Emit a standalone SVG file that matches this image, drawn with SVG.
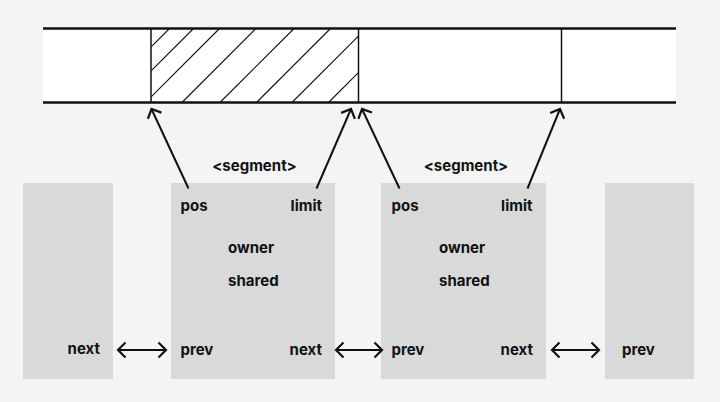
<svg xmlns="http://www.w3.org/2000/svg" width="720" height="402" viewBox="0 0 720 402">
<defs>
<style>
.bg{fill:#f4f4f4}
.node rect{fill:#d9d9d9}
text{font-family:Inter,"Noto Sans","Liberation Sans",sans-serif;font-size:15px;font-weight:700;fill:#111}
.hatch line{stroke:#111;stroke-width:1.2}
.conn line{stroke:#111;stroke-width:2;fill:none}
</style>
<marker id="ah" markerUnits="userSpaceOnUse" markerWidth="24" markerHeight="24" viewBox="-12 -12 24 24" refX="0" refY="0" orient="auto-start-reverse">
<path d="M -7.5 -7.5 L 0 0 L -7.5 7.5" fill="none" stroke="#111" stroke-width="2.2" stroke-linejoin="miter"/>
</marker>
<clipPath id="hc"><rect x="151" y="28" width="207" height="75"/></clipPath>
</defs>
<rect class="bg" x="0" y="0" width="720" height="402"/>

<g id="buffer">
<rect x="43" y="28" width="633" height="75" fill="#fff"/>
<g class="hatch" clip-path="url(#hc)">
<line x1="95" y1="103" x2="170" y2="28"/>
<line x1="119" y1="103" x2="194" y2="28"/>
<line x1="145" y1="103" x2="220" y2="28"/>
<line x1="181.5" y1="103" x2="256.5" y2="28"/>
<line x1="219.5" y1="103" x2="294.5" y2="28"/>
<line x1="256" y1="103" x2="331" y2="28"/>
<line x1="291.5" y1="103" x2="366.5" y2="28"/>
<line x1="328" y1="103" x2="403" y2="28"/>
</g>
<line x1="43" y1="28.5" x2="676" y2="28.5" stroke="#111" stroke-width="2.5"/>
<line x1="43" y1="102.5" x2="676" y2="102.5" stroke="#111" stroke-width="2.5"/>
<line x1="151" y1="28" x2="151" y2="103" stroke="#111" stroke-width="1.5"/>
<line x1="358.5" y1="28" x2="358.5" y2="103" stroke="#111" stroke-width="1.5"/>
<line x1="561.5" y1="28" x2="561.5" y2="103" stroke="#111" stroke-width="1.5"/>
</g>

<g id="seg0" class="node">
<rect x="23" y="183" width="90" height="196"/>
<text x="100" y="354" text-anchor="end">next</text>
</g>

<g id="seg1" class="node">
<rect x="171" y="183" width="164" height="196"/>
<text x="254.5" y="171" text-anchor="middle">&lt;segment&gt;</text>
<text x="180.5" y="210.5">pos</text>
<text x="322" y="210.5" text-anchor="end">limit</text>
<text x="228" y="252.5">owner</text>
<text x="228" y="286">shared</text>
<text x="180.5" y="354.5">prev</text>
<text x="322" y="354.5" text-anchor="end">next</text>
</g>

<g id="seg2" class="node">
<rect x="381" y="183" width="165" height="196"/>
<text x="466" y="171" text-anchor="middle">&lt;segment&gt;</text>
<text x="391.5" y="210.5">pos</text>
<text x="532.5" y="210.5" text-anchor="end">limit</text>
<text x="439" y="252.5">owner</text>
<text x="439" y="286">shared</text>
<text x="391.5" y="354.5">prev</text>
<text x="533" y="354.5" text-anchor="end">next</text>
</g>

<g id="seg3" class="node">
<rect x="605" y="183" width="89" height="196"/>
<text x="622" y="354.5">prev</text>
</g>

<g id="connectors" class="conn">
<line x1="188.5" y1="188.5" x2="151.5" y2="109" marker-end="url(#ah)"/>
<line x1="316.5" y1="188.5" x2="351" y2="109" marker-end="url(#ah)"/>
<line x1="399.5" y1="188.5" x2="362" y2="109" marker-end="url(#ah)"/>
<line x1="527.5" y1="188.5" x2="560" y2="109" marker-end="url(#ah)"/>
<line x1="118" y1="350" x2="166" y2="350" marker-start="url(#ah)" marker-end="url(#ah)"/>
<line x1="336" y1="350" x2="382" y2="350" marker-start="url(#ah)" marker-end="url(#ah)"/>
<line x1="552" y1="350" x2="599" y2="350" marker-start="url(#ah)" marker-end="url(#ah)"/>
</g>
</svg>
